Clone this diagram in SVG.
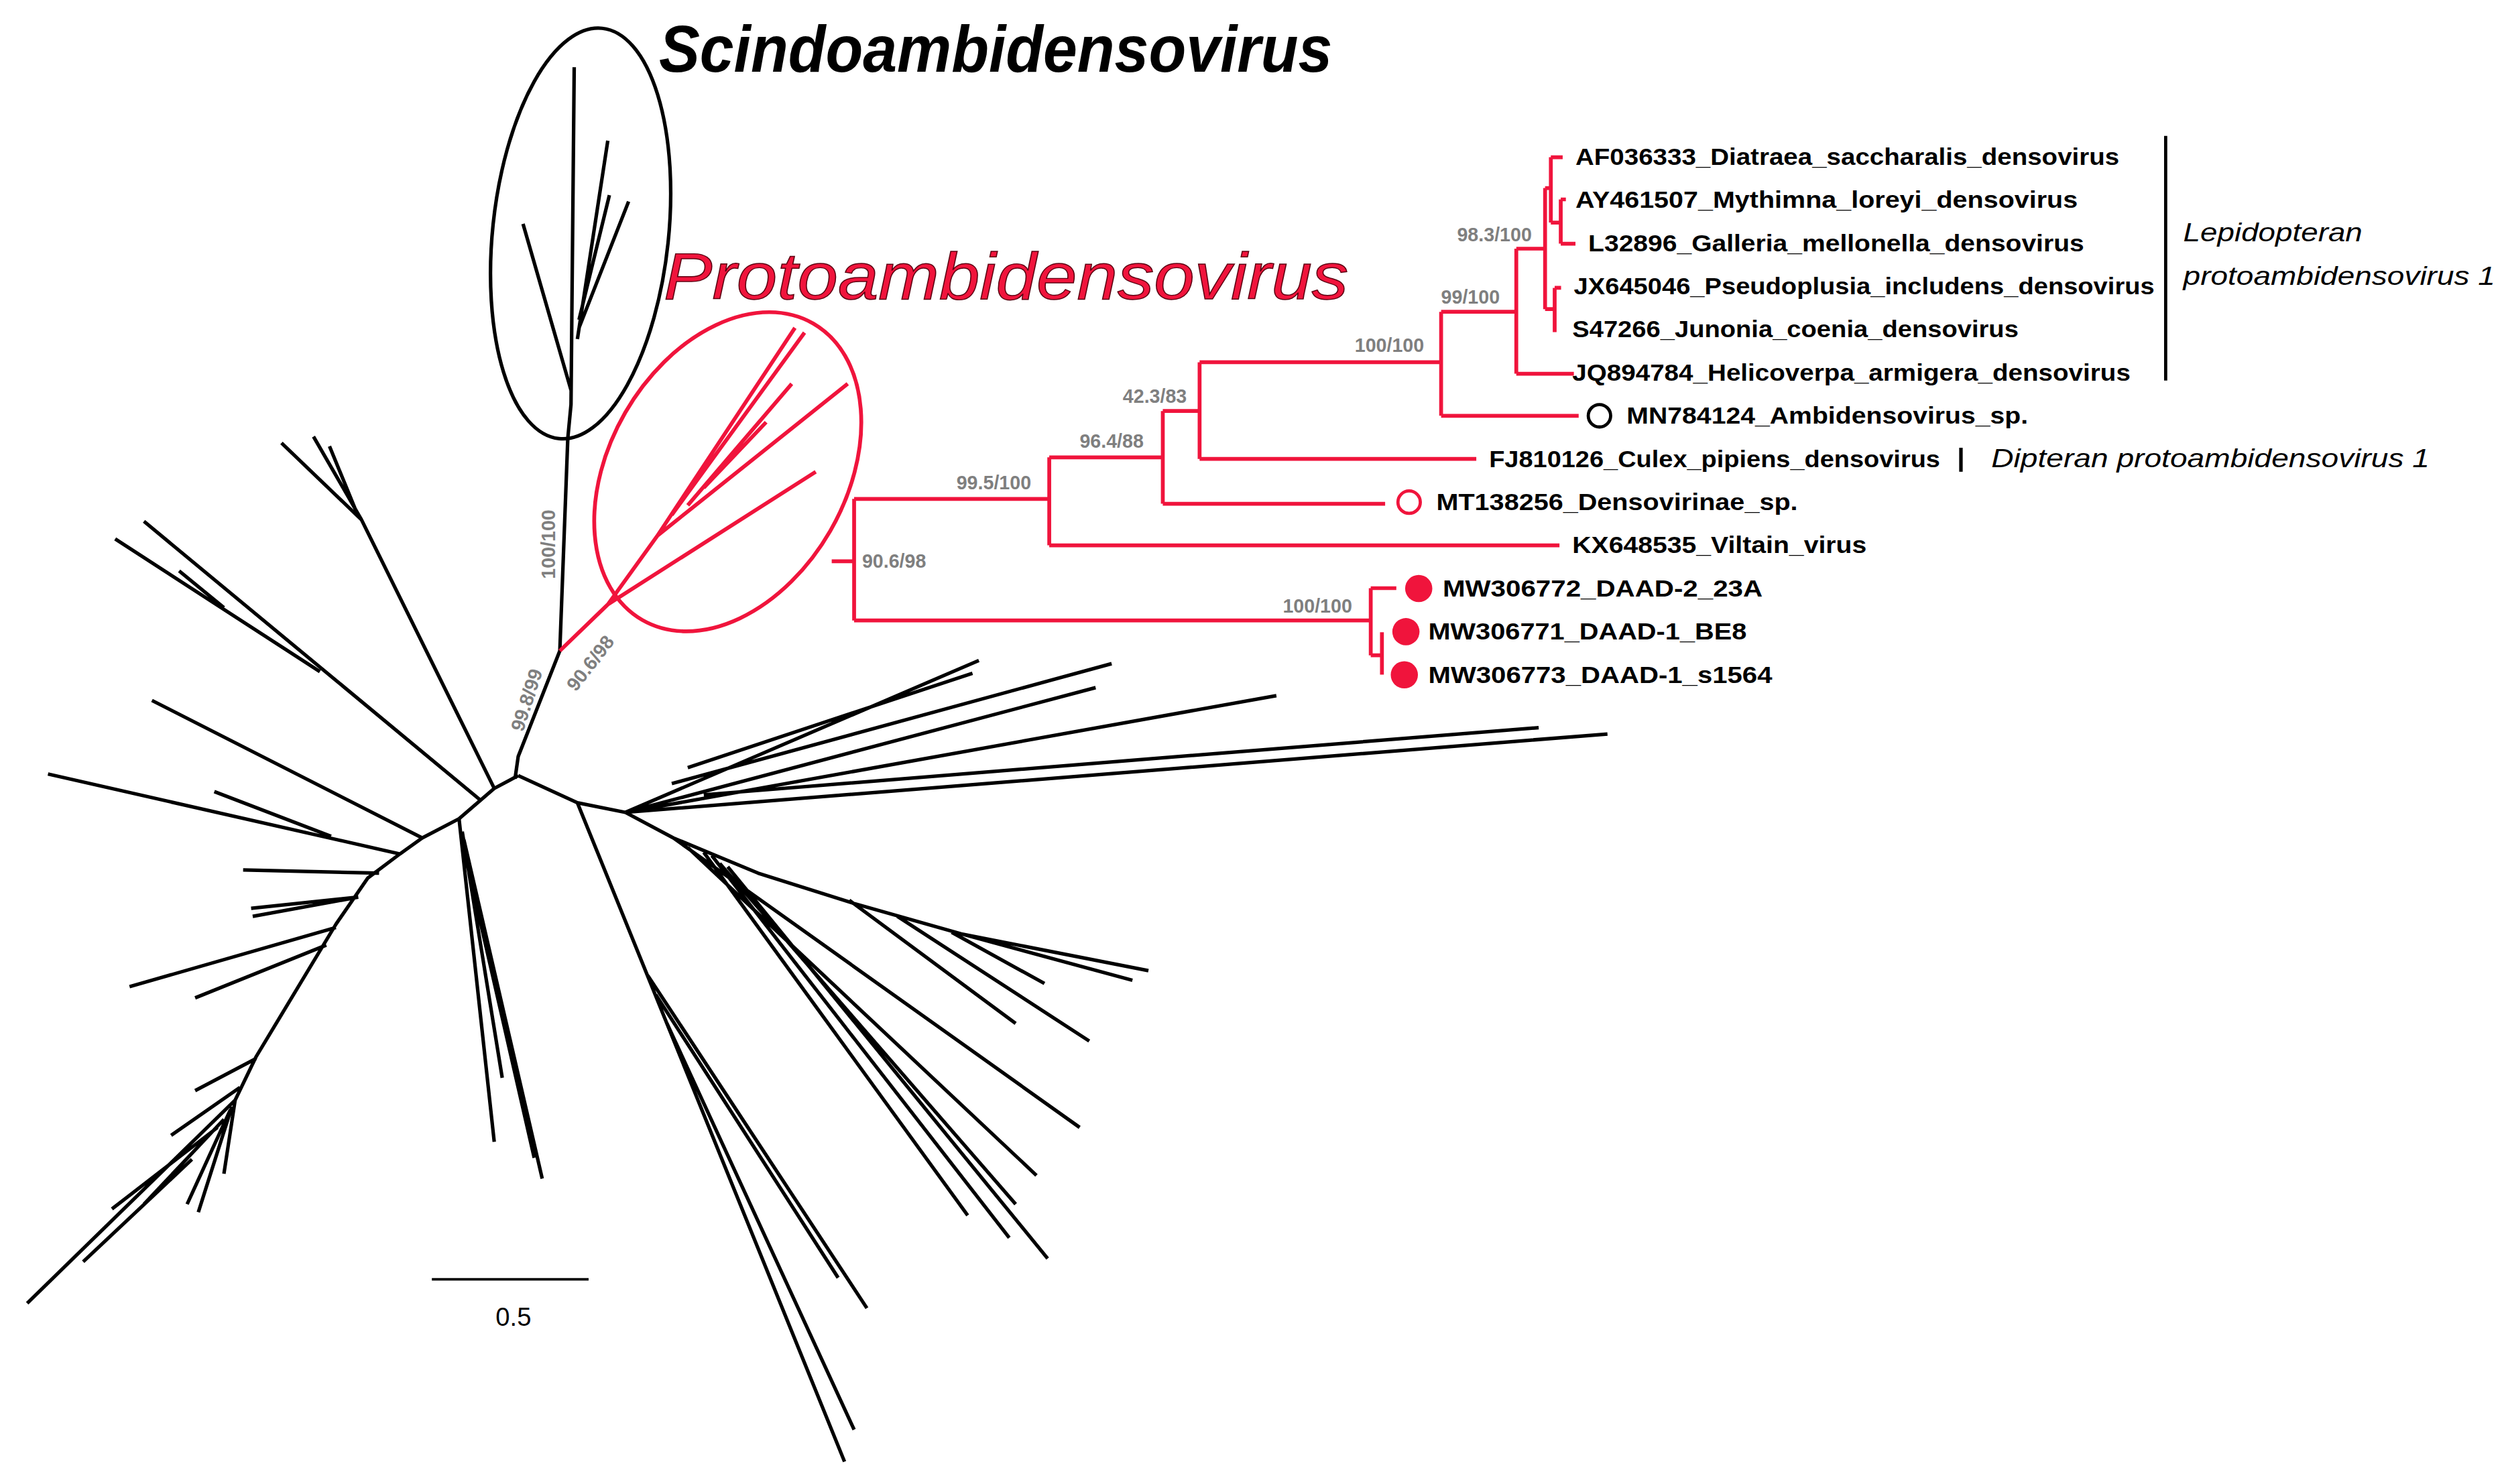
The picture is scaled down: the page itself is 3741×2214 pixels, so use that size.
<svg xmlns="http://www.w3.org/2000/svg" width="3741" height="2214" viewBox="0 0 3741 2214">
<style>
.k{fill:none;stroke:#000;stroke-width:2.2;stroke-linecap:butt;stroke-linejoin:round}
.r{fill:none;stroke:#f0143c;stroke-width:2.4;stroke-linejoin:miter}
.s{font-family:"Liberation Sans",Arial,sans-serif;font-weight:bold;font-size:12px;fill:#7f7f7f}
.t{font-family:"Liberation Sans",Arial,sans-serif;font-weight:bold;font-size:14.5px;fill:#000}
.i{font-family:"Liberation Sans",Arial,sans-serif;font-style:italic;font-size:16px;fill:#000}
</style>
<rect width="3741" height="2214" fill="#fff"/>
<g transform="scale(2.3858)">
<g id="titles">
<text x="412" y="45" font-family="Liberation Sans, Arial, sans-serif" font-weight="bold" font-style="italic" font-size="41" textLength="421" lengthAdjust="spacingAndGlyphs">Scindoambidensovirus</text>
<text x="415" y="187" font-family="Liberation Sans, Arial, sans-serif" font-style="italic" font-size="41" fill="#f0143c" stroke="#5a0010" stroke-width="0.6" textLength="428" lengthAdjust="spacingAndGlyphs">Protoambidensovirus</text>
</g>
<g id="ellipses">
<ellipse cx="363" cy="146" rx="55" ry="129" transform="rotate(6 363 146)" fill="none" stroke="#000" stroke-width="2.2"/>
<ellipse cx="455" cy="295" rx="74" ry="107" transform="rotate(30 455 295)" fill="none" stroke="#f0143c" stroke-width="2.4"/>
</g>
<g id="unrooted-tree">
<path class="k" d="M322,487 L324,473 L350,407 L355,274 L357,253 L359,42 M357,244 L327,140 M361,212 L380,88 M362,200 L381,122 M362,205 L393,126"/>
<path class="r" d="M350,407 L380,378 L510,295 M380,378 L411,335 L530,240 M411,335 L497,205 M420,322 L503,208 M430,316 L495,240 M440,305 L479,264"/>
<path class="k" d="M324,485 L309,493 L287,512 M324,485 L361,502 L391,508"/>
<path class="k" d="M309,493 L226,325 L176,277 M226,325 L196,273 M222,318 L206,279 M300,500 L90,326 M200,420 L72,337 M140,380 L112,357"/>
<path class="k" d="M287,512 L264,524 L250,534 L230,549 L210,578 L160,661 L147,688 L17,815 M264,524 L95,438 M250,534 L30,484 M207,523 L134,495 M237,546 L152,544 M224,561 L157,568 M224,561 L158,573 M210,580 L81,617 M204,591 L122,624 M160,662 L122,682 M150,680 L107,710 M147,688 L140,734 M145,692 L124,758 M144,694 L117,753 M140,700 L90,753 M136,705 L70,756 M120,725 L52,789"/>
<path class="k" d="M287,512 L309,714 M289,520 L314,674 M290,525 L339,737 M292,540 L334,724"/>
<path class="k" d="M361,502 L528,914 M417,640 L534,894 M410,622 L524,799 M405,610 L542,818"/>
<path class="k" d="M391,508 L421,524 L474,546 L534,565 L601,584 L718,607 M601,584 L708,613 M421,524 L675,705 M430,530 L648,735 M440,533 L605,760 M445,535 L631,774 M450,540 L635,753 M455,542 L655,787 M531,563 L635,640 M561,573 L681,651 M595,583 L653,615"/>
<path class="k" d="M391,508 L1005,459 M440,497 L962,455 M391,508 L798,435 M391,508 L685,430 M420,490 L695,415 M391,508 L612,413 M430,480 L608,421"/>
<text class="s" transform="translate(347,362) rotate(-90)">100/100</text>
<text class="s" transform="translate(327,458) rotate(-72)">99.8/99</text>
<text class="s" transform="translate(360,433) rotate(-52)">90.6/98</text>
</g>
<g id="connectors">
<path class="r" d="M520,351 H534 M534,312 V388 M534,312 H656 M534,388 H857 M656,286 V341 M656,341 H975 M656,286 H727 M727,257 V315 M727,315 H866 M727,257 H750 M750,226.5 V287 M750,287 H923 M750,226.5 H901 M901,195 V260 M901,260 H987 M901,195 H948 M948,155.5 V233.7 M948,233.7 H984 M948,155.5 H966 M966,117.6 V193.3 M966,117.6 H969.6 M969.6,98.3 V139.2 M969.6,98.3 H977 M969.6,139.2 H975.8 M975.8,124.7 V152.4 M975.8,124.7 H979 M975.8,152.4 H985 M966,193.3 H972 M972,180 V207.7 M972,180 H976 M857,367.8 V409.8 M857,367.8 H873 M857,409.8 H864 M864,395.4 V421.9"/>
</g>
<g id="supports">
<text class="s" x="539" y="355">90.6/98</text>
<text class="s" x="598" y="306">99.5/100</text>
<text class="s" x="802" y="383">100/100</text>
<text class="s" x="675" y="280">96.4/88</text>
<text class="s" x="702" y="252">42.3/83</text>
<text class="s" x="847" y="220">100/100</text>
<text class="s" x="901" y="190">99/100</text>
<text class="s" x="911" y="151">98.3/100</text>
</g>
<g id="leaves">
<text class="t" x="985" y="103" textLength="340" lengthAdjust="spacingAndGlyphs">AF036333_Diatraea_saccharalis_densovirus</text>
<text class="t" x="985" y="130" textLength="314" lengthAdjust="spacingAndGlyphs">AY461507_Mythimna_loreyi_densovirus</text>
<text class="t" x="993" y="157" textLength="310" lengthAdjust="spacingAndGlyphs">L32896_Galleria_mellonella_densovirus</text>
<text class="t" x="984" y="184" textLength="363" lengthAdjust="spacingAndGlyphs">JX645046_Pseudoplusia_includens_densovirus</text>
<text class="t" x="983" y="211" textLength="279" lengthAdjust="spacingAndGlyphs">S47266_Junonia_coenia_densovirus</text>
<text class="t" x="983" y="238" textLength="349" lengthAdjust="spacingAndGlyphs">JQ894784_Helicoverpa_armigera_densovirus</text>
<g id="MN784124"><circle cx="1000" cy="260" r="7" fill="none" stroke="#000" stroke-width="2"/><text class="t" x="1017" y="265" textLength="251" lengthAdjust="spacingAndGlyphs">MN784124_Ambidensovirus_sp.</text></g>
<text class="t" x="931" y="292" textLength="282" lengthAdjust="spacingAndGlyphs">FJ810126_Culex_pipiens_densovirus</text>
<g id="MT138256"><circle cx="881" cy="314" r="7" fill="#fff" stroke="#f0143c" stroke-width="2"/><text class="t" x="898" y="319" textLength="226" lengthAdjust="spacingAndGlyphs">MT138256_Densovirinae_sp.</text></g>
<text class="t" x="983" y="346" textLength="184" lengthAdjust="spacingAndGlyphs">KX648535_Viltain_virus</text>
<g id="MW306772"><circle cx="887" cy="368" r="8.5" fill="#f0143c"/><text class="t" x="902" y="373" textLength="200" lengthAdjust="spacingAndGlyphs">MW306772_DAAD-2_23A</text></g>
<g id="MW306771"><circle cx="879" cy="395" r="8.5" fill="#f0143c"/><text class="t" x="893" y="400" textLength="199" lengthAdjust="spacingAndGlyphs">MW306771_DAAD-1_BE8</text></g>
<g id="MW306773"><circle cx="878" cy="422" r="8.5" fill="#f0143c"/><text class="t" x="893" y="427" textLength="215" lengthAdjust="spacingAndGlyphs">MW306773_DAAD-1_s1564</text></g>
</g>
<g id="groups">
<line x1="1354" y1="85" x2="1354" y2="238" stroke="#000" stroke-width="2"/>
<text class="i" x="1365" y="151" textLength="112" lengthAdjust="spacingAndGlyphs">Lepidopteran</text>
<text class="i" x="1365" y="178" textLength="195" lengthAdjust="spacingAndGlyphs">protoambidensovirus 1</text>
<line x1="1226" y1="280" x2="1226" y2="295" stroke="#000" stroke-width="2.2"/>
<text class="i" x="1245" y="292" textLength="274" lengthAdjust="spacingAndGlyphs">Dipteran protoambidensovirus 1</text>
</g>
<g id="scale">
<line x1="270" y1="800" x2="368" y2="800" stroke="#000" stroke-width="1.5"/>
<text x="321" y="829" text-anchor="middle" font-family="Liberation Sans, Arial, sans-serif" font-size="16">0.5</text>
</g>
</g>
</svg>
